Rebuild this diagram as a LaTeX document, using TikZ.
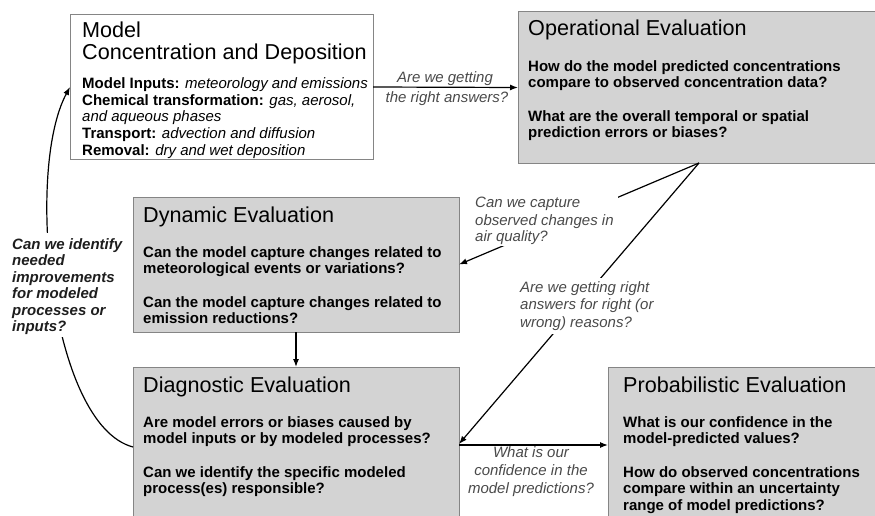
\documentclass[tikz,border=0pt]{standalone}
\usepackage{fontspec}
\setmainfont{Liberation Sans}
\usetikzlibrary{arrows.meta,shadows}
\definecolor{boxfill}{HTML}{D3D3D3}
\definecolor{boxline}{HTML}{858585}
\definecolor{labgray}{HTML}{4A4A4A}
\definecolor{idgray}{HTML}{1E1E1E}
\newcounter{txc}
\newcommand{\txl}[4]{\stepcounter{txc}\node[#1] (t\arabic{txc}) at (#2,#3) {#4};}
\newcommand{\iv}[1]{{\mdseries\itshape #1}}
\begin{document}
\begin{tikzpicture}[x=1pt,y=-1pt,
  box/.style={draw=boxline, fill=boxfill, line width=1pt, anchor=north west, inner sep=0pt, outer sep=0pt,
    drop shadow={shadow xshift=0.8pt, shadow yshift=-1.4pt, fill=black!55, opacity=0.6}},
  wbox/.style={box, fill=white},
  cover/.style={fill=white, draw=none, anchor=north west, inner sep=0pt, outer sep=0pt},
  ttl/.style={anchor=base west, inner sep=0pt, font=\fontsize{21.6}{24}\selectfont},
  bdy/.style={anchor=base west, inner sep=0pt, font=\fontsize{15}{16.5}\selectfont\bfseries},
  lab/.style={anchor=base west, inner sep=0pt, text=labgray, font=\fontsize{15}{17}\selectfont\itshape},
  clab/.style={anchor=base, inner sep=0pt, text=labgray, font=\fontsize{15}{17}\selectfont\itshape},
  idlab/.style={anchor=base west, inner sep=0pt, text=idgray, font=\fontsize{15}{16.5}\selectfont\bfseries\itshape},
  arr/.style={line width=1.2pt, -{Latex[length=8pt,width=6pt]}}
]
\useasboundingbox (0,0) rectangle (875,516);
\fill[white] (0,0) rectangle (875,516);

% boxes
\node[wbox, minimum width=303pt, minimum height=144pt] (mod) at (70,15) {};
\node[box, minimum width=362pt, minimum height=151pt] (op) at (518,12) {};
\node[box, minimum width=326pt, minimum height=135pt] (dyn) at (133,197) {};
\node[box, minimum width=326pt, minimum height=160pt] (diag) at (133,367) {};
\node[box, minimum width=272pt, minimum height=160pt] (prob) at (608,367) {};

% connectors
\draw[arr] (mod.east) -- (op.west);
\draw[arr] (dyn.south) -- (diag.north);
\draw[arr] (op.south) -- (dyn.east);
\draw[arr] (op.south) -- ([yshift=3pt]diag.east);
\draw[arr] ([yshift=2pt]diag.east) -- ([yshift=2pt]prob.west);
\draw[arr] (diag.west) .. controls (50,425) and (25,170) .. (mod.west);

% white backing behind labels that sit on connectors
\node[cover, minimum width=147pt, minimum height=53pt] (capcov) at (471,193) {};
\node[cover, minimum width=146pt, minimum height=56pt] (reacov) at (516,278) {};
\node[cover, minimum width=122pt, minimum height=104pt] (idcov) at (6,233) {};

% Model box text
\txl{ttl}{82}{37.5}{Model}
\txl{ttl}{82}{60}{Concentration and Deposition}
\txl{bdy}{82}{89}{Model Inputs: \iv{meteorology and emissions}}
\txl{bdy}{82}{105.5}{Chemical transformation: \iv{gas, aerosol,}}
\txl{bdy}{82}{122}{\iv{and aqueous phases}}
\txl{bdy}{82}{138.5}{Transport: \iv{advection and diffusion}}
\txl{bdy}{82}{155}{Removal: \iv{dry and wet deposition}}

% Operational
\txl{ttl}{528}{36}{Operational Evaluation}
\txl{bdy}{528}{72}{How do the model predicted concentrations}
\txl{bdy}{528}{88}{compare to observed concentration data?}
\txl{bdy}{528}{122}{What are the overall temporal or spatial}
\txl{bdy}{528}{138}{prediction errors or biases?}

% Dynamic
\txl{ttl}{143}{222}{Dynamic Evaluation}
\txl{bdy}{143}{257}{Can the model capture changes related to}
\txl{bdy}{143}{273}{meteorological events or variations?}
\txl{bdy}{143}{307}{Can the model capture changes related to}
\txl{bdy}{143}{323}{emission reductions?}

% Diagnostic
\txl{ttl}{143}{392}{Diagnostic Evaluation}
\txl{bdy}{143}{427}{Are model errors or biases caused by}
\txl{bdy}{143}{443}{model inputs or by modeled processes?}
\txl{bdy}{143}{477}{Can we identify the specific modeled}
\txl{bdy}{143}{493}{process(es) responsible?}

% Probabilistic
\txl{ttl}{623}{392}{Probabilistic Evaluation}
\txl{bdy}{623}{427}{What is our confidence in the}
\txl{bdy}{623}{443}{model-predicted values?}
\txl{bdy}{623}{477}{How do observed concentrations}
\txl{bdy}{623}{493}{compare within an uncertainty}
\txl{bdy}{623}{510}{range of model predictions?}

% connector labels
\txl{clab}{445}{82.5}{Are we getting}
\txl{clab}{447}{103}{the right answers?}

\txl{lab}{475}{207.5}{Can we capture}
\txl{lab}{475}{225}{observed changes in}
\txl{lab}{475}{241.5}{air quality?}

\txl{lab}{520}{292}{Are we getting right}
\txl{lab}{520}{309}{answers for right (or}
\txl{lab}{520}{327}{wrong) reasons?}

\txl{clab}{531}{457}{What is our}
\txl{clab}{531}{475}{confidence in the}
\txl{clab}{531}{493}{model predictions?}

\txl{idlab}{12}{249}{Can we identify}
\txl{idlab}{12}{265.5}{needed}
\txl{idlab}{12}{282}{improvements}
\txl{idlab}{12}{298.5}{for modeled}
\txl{idlab}{12}{315}{processes or}
\txl{idlab}{12}{331.5}{inputs?}
\end{tikzpicture}
\end{document}
